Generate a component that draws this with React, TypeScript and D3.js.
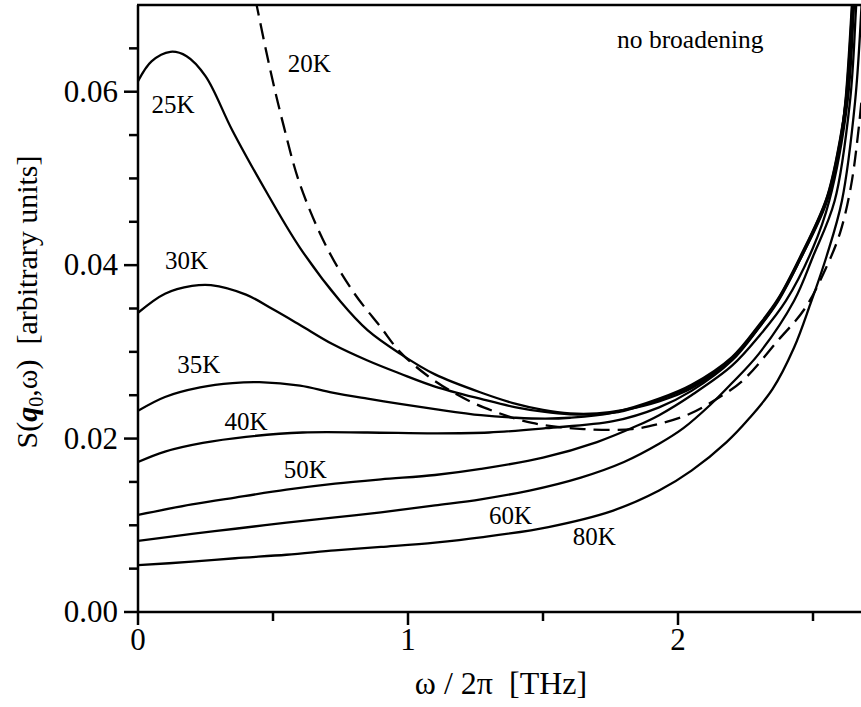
import React from "react";
import * as d3 from "d3";

type Pt = [number, number];

// ω/2π [THz], S(q0,ω) [arb. units]
const s20K: Pt[] = [
  [0.40, 0.0760], [0.44, 0.0699], [0.49, 0.0625], [0.54, 0.0560], [0.60, 0.0493],
  [0.70, 0.0420], [0.80, 0.0368], [0.90, 0.0328], [0.97, 0.0300], [1.07, 0.0273],
  [1.18, 0.0251], [1.28, 0.0236], [1.46, 0.0218], [1.65, 0.0211], [1.83, 0.0211],
  [1.93, 0.0217], [2.04, 0.0228], [2.14, 0.0245], [2.24, 0.0267], [2.37, 0.0313],
  [2.47, 0.0350], [2.55, 0.0398], [2.60, 0.0437], [2.64, 0.0490], [2.67, 0.0560], [2.70, 0.0660],
];
const s25K: Pt[] = [
  [0, 0.0612], [0.05, 0.0635], [0.12, 0.0646], [0.18, 0.0641], [0.25, 0.0618],
  [0.35, 0.0555], [0.48, 0.0482], [0.60, 0.0420], [0.75, 0.0358], [0.85, 0.0325],
  [0.97, 0.0298], [1.10, 0.0274], [1.28, 0.0252], [1.40, 0.0240], [1.50, 0.0233],
  [1.60, 0.0229], [1.70, 0.0229], [1.80, 0.0233], [1.93, 0.0243], [2.05, 0.0258],
  [2.20, 0.0292], [2.30, 0.0328], [2.37, 0.0359], [2.45, 0.0405], [2.55, 0.0474],
  [2.60, 0.0540], [2.62, 0.0589], [2.644, 0.0700], [2.67, 0.0850],
];
const s30K: Pt[] = [
  [0, 0.0345], [0.10, 0.0367], [0.20, 0.0376], [0.27, 0.0377], [0.40, 0.0366],
  [0.50, 0.0349], [0.60, 0.0331], [0.72, 0.0309], [0.85, 0.0290], [0.97, 0.0275],
  [1.10, 0.0260], [1.28, 0.0245], [1.40, 0.0236], [1.50, 0.0231], [1.60, 0.0228],
  [1.70, 0.0228], [1.80, 0.0232], [1.93, 0.0245], [2.05, 0.0260], [2.20, 0.0293],
  [2.30, 0.0330], [2.37, 0.0360], [2.45, 0.0407], [2.55, 0.0476], [2.60, 0.0543],
  [2.622, 0.0592], [2.646, 0.0703], [2.67, 0.0860],
];
const s35K: Pt[] = [
  [0, 0.0232], [0.10, 0.0248], [0.23, 0.0259], [0.35, 0.0264], [0.45, 0.0265],
  [0.60, 0.0261], [0.72, 0.0253], [0.85, 0.0246], [0.97, 0.0240], [1.10, 0.0234],
  [1.27, 0.0227], [1.40, 0.0224], [1.51, 0.0223], [1.60, 0.0224], [1.76, 0.0230],
  [1.93, 0.0246], [2.05, 0.0262], [2.20, 0.0294], [2.30, 0.0331], [2.37, 0.0361],
  [2.45, 0.0408], [2.55, 0.0477], [2.60, 0.0545], [2.624, 0.0594], [2.648, 0.0706], [2.675, 0.0870],
];
const s40K: Pt[] = [
  [0, 0.0173], [0.10, 0.0185], [0.24, 0.0195], [0.40, 0.0202], [0.61, 0.0207],
  [0.85, 0.0207], [1.10, 0.0206], [1.30, 0.0207], [1.51, 0.0212], [1.76, 0.0220],
  [1.93, 0.0236], [2.05, 0.0255], [2.20, 0.0290], [2.30, 0.0328], [2.37, 0.0358],
  [2.45, 0.0405], [2.55, 0.0472], [2.60, 0.0538], [2.626, 0.0590], [2.650, 0.0700], [2.68, 0.0870],
];
const s50K: Pt[] = [
  [0, 0.0112], [0.20, 0.0124], [0.36, 0.0132], [0.55, 0.0141], [0.73, 0.0148],
  [0.90, 0.0153], [1.10, 0.0158], [1.27, 0.0165], [1.50, 0.0178], [1.70, 0.0196],
  [1.85, 0.0215], [1.93, 0.0227], [2.05, 0.0250], [2.20, 0.0284], [2.30, 0.0318],
  [2.40, 0.0359], [2.50, 0.0420], [2.56, 0.0474], [2.628, 0.0589], [2.652, 0.0700], [2.68, 0.0860],
];
const s60K: Pt[] = [
  [0, 0.0082], [0.20, 0.0090], [0.36, 0.0096], [0.55, 0.0103], [0.73, 0.0109],
  [0.90, 0.0115], [1.10, 0.0123], [1.27, 0.0130], [1.45, 0.0140], [1.64, 0.0155],
  [1.80, 0.0173], [1.93, 0.0194], [2.02, 0.0212], [2.12, 0.0239], [2.20, 0.0264],
  [2.30, 0.0298], [2.43, 0.0359], [2.50, 0.0410], [2.58, 0.0474], [2.637, 0.0589],
  [2.660, 0.0700], [2.69, 0.0880],
];
const s80K: Pt[] = [
  [0, 0.0054], [0.20, 0.0058], [0.36, 0.0062], [0.55, 0.0066], [0.73, 0.0071],
  [0.90, 0.0075], [1.10, 0.0080], [1.27, 0.0086], [1.52, 0.0098], [1.76, 0.0117],
  [1.93, 0.0140], [2.05, 0.0163], [2.18, 0.0196], [2.26, 0.0222], [2.35, 0.0257],
  [2.43, 0.0305], [2.49, 0.0355], [2.55, 0.0410], [2.607, 0.0474], [2.656, 0.0589],
  [2.680, 0.0700], [2.71, 0.0900],
];

const seriesNames = ["20K", "25K", "30K", "35K", "40K", "50K", "60K", "80K"];
const seriesData = [s20K, s25K, s30K, s35K, s40K, s50K, s60K, s80K];
const dashedSeries = ["20K"];

// label anchor positions in data coordinates [ω, S]
const labelPos: Pt[] = [
  [0.555, 0.0623], [0.05, 0.0576], [0.10, 0.0395], [0.145, 0.0276],
  [0.32, 0.0210], [0.54, 0.0154], [1.30, 0.0102], [1.61, 0.0077],
];

const xMajor = [0, 1, 2];
const xMinor = [0.5, 1.5, 2.5];
const yMajor = [0, 0.02, 0.04, 0.06];
const yMinor = [0.005, 0.01, 0.015, 0.025, 0.03, 0.035, 0.045, 0.05, 0.055, 0.065];

const W = 861;
const H = 707;
const m = { left: 138, top: 5, right: 861, bottom: 612 };

export default function App() {
  const x = d3.scaleLinear().domain([0, 1]).range([m.left, m.left + 270]);
  const y = d3.scaleLinear().domain([0, 0.07]).range([m.bottom, m.top]);
  const line = d3
    .line<Pt>()
    .x((d) => x(d[0]))
    .y((d) => y(d[1]))
    .curve(d3.curveCatmullRom.alpha(0.5));

  const font = "'Liberation Serif', 'Times New Roman', serif";

  return (
    <svg
      width={W}
      height={H}
      style={{ position: "absolute", left: 0, top: 0, background: "#fff" }}
      fontFamily={font}
    >
      <defs>
        <clipPath id="plot">
          <rect x={m.left} y={m.top} width={m.right - m.left} height={m.bottom - m.top} />
        </clipPath>
      </defs>
      <g clipPath="url(#plot)">
        {seriesData.map((s, i) => (
          <path
            key={seriesNames[i]}
            d={line(s) || ""}
            fill="none"
            stroke="#000"
            strokeWidth={2.3}
            strokeDasharray={dashedSeries.includes(seriesNames[i]) ? "16,8" : undefined}
          />
        ))}
      </g>
      {/* axes */}
      <line x1={m.left} x2={m.left} y1={m.top} y2={m.bottom + 1} stroke="#000" strokeWidth={2.5} />
      <line x1={m.left - 1} x2={W} y1={m.bottom} y2={m.bottom} stroke="#000" strokeWidth={2.5} />
      <line x1={m.left - 1} x2={W} y1={m.top} y2={m.top} stroke="#000" strokeWidth={2.5} />
      {xMajor.map((v) => (
        <g key={"xM" + v}>
          <line x1={x(v)} x2={x(v)} y1={m.bottom} y2={m.bottom + 13} stroke="#000" strokeWidth={2.5} />
          <text x={x(v)} y={650} textAnchor="middle" fontSize={31}>
            {v}
          </text>
        </g>
      ))}
      {xMinor.map((v) => (
        <line key={"xm" + v} x1={x(v)} x2={x(v)} y1={m.bottom} y2={m.bottom + 9} stroke="#000" strokeWidth={2.5} />
      ))}
      {yMajor.map((v) => (
        <g key={"yM" + v}>
          <line x1={m.left - 14} x2={m.left} y1={y(v)} y2={y(v)} stroke="#000" strokeWidth={2.5} />
          <text x={118} y={y(v) + 10} textAnchor="end" fontSize={31}>
            {v.toFixed(2)}
          </text>
        </g>
      ))}
      {yMinor.map((v) => (
        <line key={"ym" + v} x1={m.left - 9} x2={m.left} y1={y(v)} y2={y(v)} stroke="#000" strokeWidth={2.5} />
      ))}
      {/* curve labels */}
      {seriesNames.map((n, i) => (
        <text key={"lab" + n} x={x(labelPos[i][0])} y={y(labelPos[i][1])} fontSize={25}>
          {n}
        </text>
      ))}
      <text x={617} y={48} fontSize={25.5}>
        no broadening
      </text>
      {/* axis titles */}
      <text x={501} y={694} textAnchor="middle" fontSize={32}>
        ω / 2π{"\u00a0\u00a0"}[THz]
      </text>
      <text transform="translate(37,302) rotate(-90)" textAnchor="middle" fontSize={30}>
        S(
        <tspan fontWeight="bold" fontStyle="italic">q</tspan>
        <tspan fontSize={20} dy={6}>0</tspan>
        <tspan dy={-6}>,ω){"\u00a0\u00a0"}[arbitrary units]</tspan>
      </text>
    </svg>
  );
}
